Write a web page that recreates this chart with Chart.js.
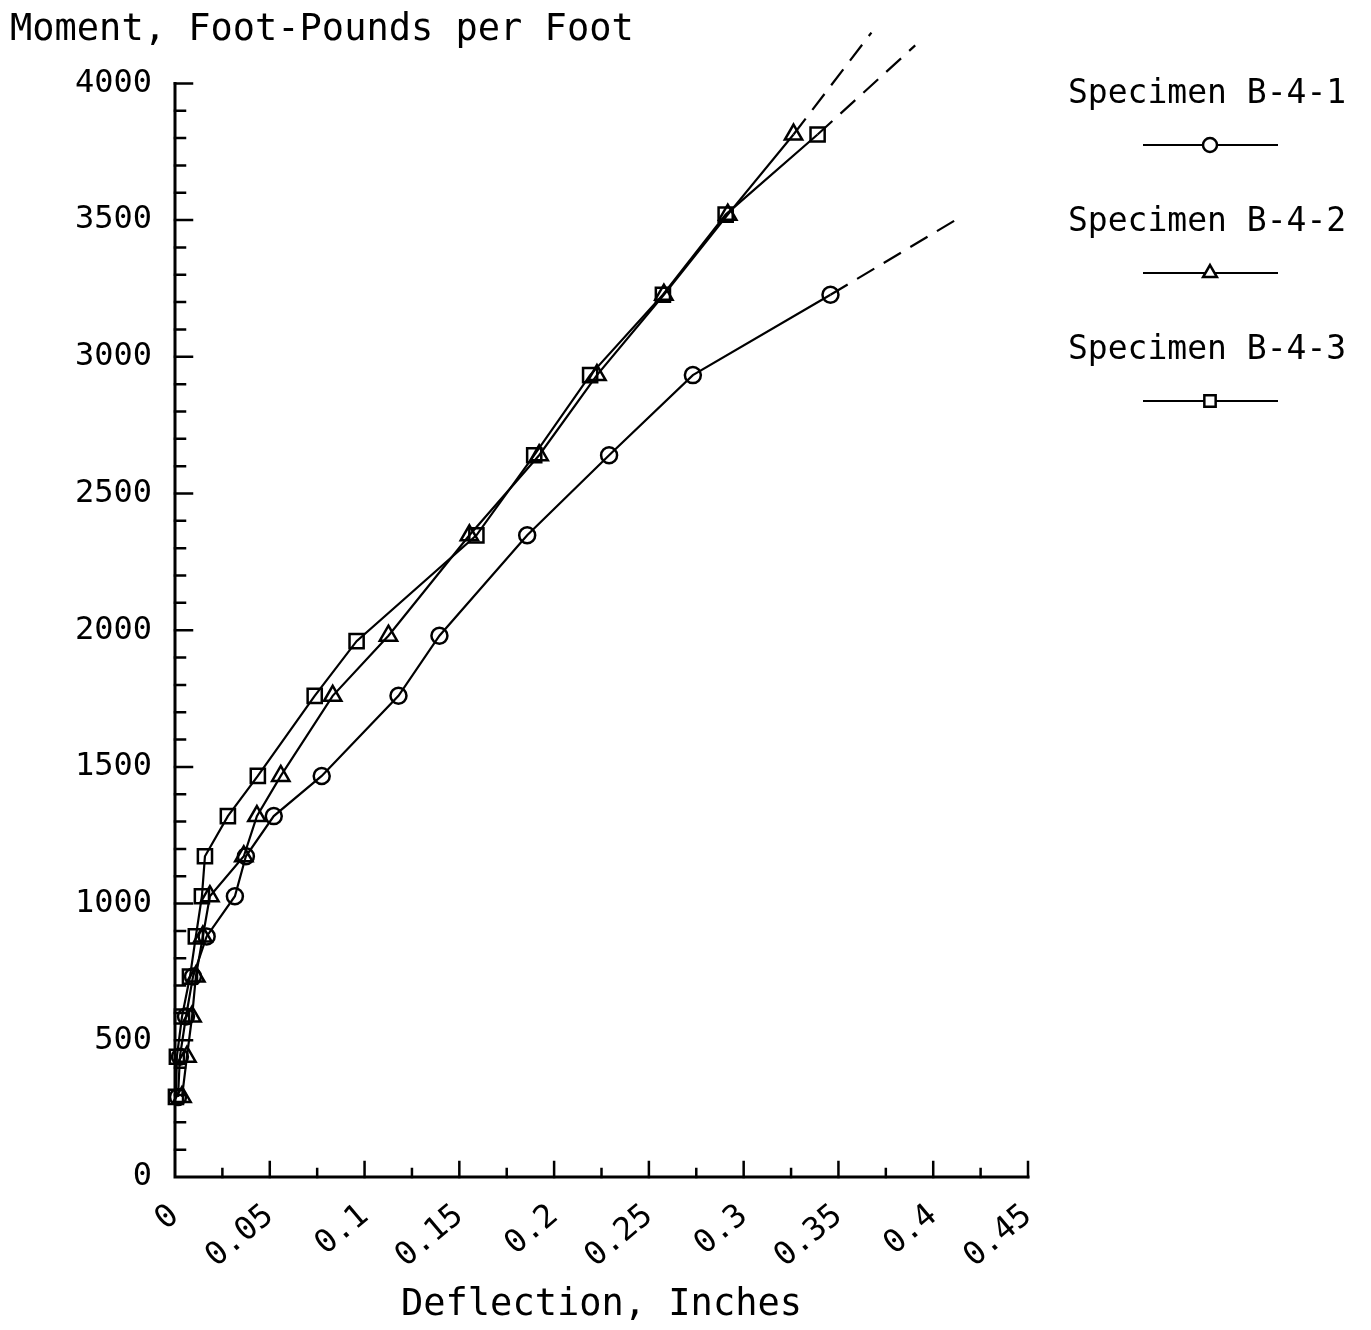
<!DOCTYPE html>
<html>
<head>
<meta charset="utf-8">
<title>Moment vs Deflection</title>
<script src="https://cdn.jsdelivr.net/npm/chart.js@4/dist/chart.umd.min.js"></script>
<style>
  html, body { margin: 0; padding: 0; background: #fff; }
  #wrap { width: 1371px; height: 1330px; }
</style>
</head>
<body>
<div id="wrap"><canvas id="momentChart" width="1371" height="1330"></canvas></div>
<script>
const specimens = ['Specimen B-4-1', 'Specimen B-4-2', 'Specimen B-4-3'];
const markers = ['circle', 'triangle', 'rect'];

// deflection (in) and moment (ft-lb/ft) per specimen
const deflectionB41 = [0.0016, 0.0026, 0.0058, 0.0095, 0.0167, 0.0316, 0.0374, 0.0521, 0.0774, 0.1179, 0.1395, 0.1858, 0.229, 0.2732, 0.3458];
const momentB41     = [293, 440, 587, 733, 880, 1027, 1173, 1320, 1467, 1760, 1980, 2347, 2640, 2933, 3227];

const deflectionB42 = [0.0037, 0.0063, 0.009, 0.011, 0.0147, 0.0184, 0.0363, 0.0432, 0.0558, 0.0832, 0.1126, 0.1553, 0.1921, 0.2226, 0.2579, 0.2916, 0.3263];
const momentB42     = [293, 440, 587, 733, 880, 1027, 1173, 1320, 1467, 1760, 1980, 2347, 2640, 2933, 3227, 3520, 3813];

const deflectionB43 = [0.0005, 0.001, 0.0037, 0.0079, 0.011, 0.0142, 0.0158, 0.0279, 0.0437, 0.0737, 0.0958, 0.159, 0.1895, 0.219, 0.2574, 0.2905, 0.339];
const momentB43     = [293, 440, 587, 733, 880, 1027, 1173, 1320, 1467, 1760, 1960, 2347, 2640, 2933, 3227, 3520, 3813];

// dashed extrapolation end points, one per specimen
const dashEndDeflection = [0.4132, 0.3674, 0.3905];
const dashEndMoment     = [3506, 4186, 4139];

const xTickLabels = ['0', '0.05', '0.1', '0.15', '0.2', '0.25', '0.3', '0.35', '0.4', '0.45'];
const yTickLabels = ['0', '500', '1000', '1500', '2000', '2500', '3000', '3500', '4000'];

const deflections = [deflectionB41, deflectionB42, deflectionB43];
const moments = [momentB41, momentB42, momentB43];

const FONT = "'DejaVu Sans Mono', 'Liberation Mono', monospace";

const measured = specimens.map((name, i) => ({
  label: name,
  data: deflections[i].map((x, k) => ({ x: x, y: moments[i][k] })),
  borderColor: '#000',
  borderWidth: 2.2,
  pointStyle: markers[i],
  pointRadius: markers[i] === 'circle' ? 8 : 10,
  pointBorderWidth: 2.5,
  pointBorderColor: '#000',
  pointBackgroundColor: 'rgba(0,0,0,0)',
  tension: 0,
  clip: false,
}));

const trends = specimens.map((name, i) => {
  const last = deflections[i].length - 1;
  return {
    label: name + ' trend',
    data: [
      { x: deflections[i][last], y: moments[i][last] },
      { x: dashEndDeflection[i], y: dashEndMoment[i] },
    ],
    borderColor: '#000',
    borderWidth: 2.2,
    borderDash: [20, 11],
    pointRadius: 0,
    tension: 0,
    clip: false,
  };
});

// axis lines with inward major and minor ticks
const axisTicks = {
  id: 'axisTicks',
  afterDatasetsDraw(chart) {
    const ctx = chart.ctx;
    const xs = chart.scales.x;
    const ys = chart.scales.y;
    const left = xs.left, bottom = ys.bottom;
    ctx.save();
    ctx.strokeStyle = '#000';
    ctx.lineCap = 'square';
    ctx.lineWidth = 3;
    ctx.beginPath();
    ctx.moveTo(left, ys.top);
    ctx.lineTo(left, bottom);
    ctx.lineTo(xs.right, bottom);
    ctx.stroke();

    ctx.lineWidth = 2.5;
    ctx.beginPath();
    for (let v = 100; v <= 4000; v += 100) {
      const y = ys.getPixelForValue(v);
      const len = v % 500 === 0 ? 17 : 10;
      ctx.moveTo(left, y);
      ctx.lineTo(left + len, y);
    }
    for (let k = 1; k <= 18; k++) {
      const x = xs.getPixelForValue(k * 0.025);
      const len = k % 2 === 0 ? 15 : 8;
      ctx.moveTo(x, bottom);
      ctx.lineTo(x, bottom - len);
    }
    ctx.stroke();
    ctx.restore();
  }
};

// stacked legend: name above a short line sample with its marker
const stackedLegend = {
  id: 'stackedLegend',
  afterDraw(chart) {
    const ctx = chart.ctx;
    ctx.save();
    specimens.forEach((name, i) => {
      const ds = chart.data.datasets[i];
      const top = 94 + i * 128;
      ctx.fillStyle = '#000';
      ctx.font = '33px ' + FONT;
      ctx.textBaseline = 'middle';
      ctx.textAlign = 'left';
      ctx.fillText(name, 1068, top);

      const ly = top + 51;
      ctx.strokeStyle = '#000';
      ctx.lineWidth = 2;
      ctx.beginPath();
      ctx.moveTo(1143, ly);
      ctx.lineTo(1278, ly);
      ctx.stroke();

      ctx.fillStyle = '#fff';
      ctx.lineWidth = 2.5;
      Chart.helpers.drawPoint(ctx, {
        pointStyle: ds.pointStyle,
        rotation: 0,
        radius: ds.pointStyle === 'circle' ? 7 : 8,
        borderWidth: 2.5,
      }, 1210, ly);
    });
    ctx.restore();
  }
};

const config = {
  type: 'line',
  data: { datasets: measured.concat(trends) },
  options: {
    responsive: false,
    animation: false,
    layout: { padding: { left: 10, right: 343, top: 0, bottom: 0 } },
    plugins: {
      legend: { display: false },
      tooltip: { enabled: false },
      title: {
        display: true,
        text: 'Moment, Foot-Pounds per Foot',
        align: 'start',
        color: '#000',
        font: { family: FONT, size: 37, weight: 'normal' },
        padding: { top: 8, bottom: 31 },
      },
    },
    scales: {
      x: {
        type: 'linear',
        min: 0,
        max: 0.45,
        grid: { display: false },
        border: { display: false },
        ticks: {
          stepSize: 0.05,
          minRotation: 40,
          maxRotation: 40,
          padding: 12,
          color: '#000',
          font: { family: FONT, size: 32 },
          callback: (value, index) => xTickLabels[index],
        },
        title: {
          display: true,
          text: 'Deflection, Inches',
          color: '#000',
          font: { family: FONT, size: 37, weight: 'normal' },
          padding: { top: 0, bottom: 2 },
        },
        afterFit(scale) { scale.height = 153; },
      },
      y: {
        type: 'linear',
        min: 0,
        max: 4000,
        grid: { display: false },
        border: { display: false },
        ticks: {
          stepSize: 500,
          padding: 15,
          color: '#000',
          font: { family: FONT, size: 32 },
          callback: (value, index) => yTickLabels[index],
        },
        afterFit(scale) { scale.width = 165; },
      },
    },
  },
  plugins: [axisTicks, stackedLegend],
};

const momentChart = new Chart(document.getElementById('momentChart'), config);
</script>
</body>
</html>
